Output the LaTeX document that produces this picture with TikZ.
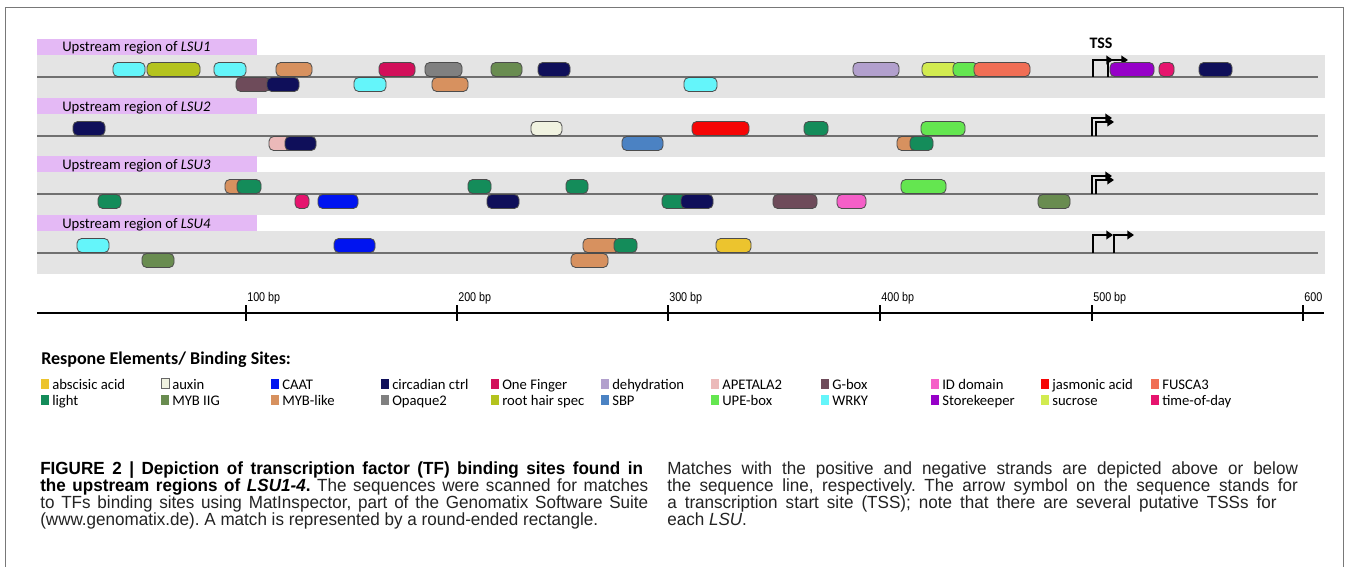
\documentclass[tikz,border=0pt]{standalone}
\usepackage{fontspec}
\setmainfont{Carlito}
\newfontfamily\capfont{Liberation Sans}[FakeStretch=0.97]
\newfontfamily\axfont{Liberation Sans}[FakeStretch=0.85]
\usetikzlibrary{arrows.meta}
\frenchspacing
\definecolor{bandgray}{RGB}{228,228,228}
\definecolor{lblpink}{RGB}{228,185,245}
\definecolor{linegray}{RGB}{112,112,112}
\definecolor{framegray}{RGB}{120,120,120}
\definecolor{captext}{RGB}{35,35,35}
\definecolor{abscisic}{RGB}{236,196,46}
\definecolor{auxin}{RGB}{240,242,224}
\definecolor{CAAT}{RGB}{0,20,240}
\definecolor{circadian}{RGB}{15,15,90}
\definecolor{OneFinger}{RGB}{210,15,90}
\definecolor{dehydration}{RGB}{178,160,205}
\definecolor{APETALA}{RGB}{235,185,185}
\definecolor{Gbox}{RGB}{110,75,90}
\definecolor{IDdomain}{RGB}{245,95,200}
\definecolor{jasmonic}{RGB}{245,5,5}
\definecolor{FUSCA}{RGB}{240,110,85}
\definecolor{light}{RGB}{20,140,90}
\definecolor{MYBIIG}{RGB}{105,140,80}
\definecolor{MYBlike}{RGB}{215,145,95}
\definecolor{Opaque}{RGB}{128,128,128}
\definecolor{roothair}{RGB}{180,195,30}
\definecolor{SBP}{RGB}{75,130,195}
\definecolor{UPE}{RGB}{100,230,80}
\definecolor{WRKY}{RGB}{100,245,250}
\definecolor{Storekeeper}{RGB}{150,0,200}
\definecolor{sucrose}{RGB}{210,235,80}
\definecolor{timeofday}{RGB}{230,20,110}
\begin{document}
\begin{tikzpicture}[x=0.75pt,y=-0.75pt,
  site/.style={draw=black!70, line width=0.6pt, rounded corners=3.5pt,
    minimum height=10.5pt, inner sep=0pt, outer sep=0pt},
  seqline/.style={draw=linegray, line width=1.4pt},
  lbltxt/.style={anchor=base west, inner sep=0pt, font=\fontsize{11}{13}\selectfont},
  tssarrow/.style={line width=1.1pt, -{Triangle[length=5pt,width=6.5pt]}},
  swatch/.style={anchor=south west, minimum width=6pt, minimum height=7.5pt, inner sep=0pt},
  legtxt/.style={anchor=base west, inner sep=0pt, font=\fontsize{11}{13}\selectfont},
  axlbl/.style={anchor=base west, inner sep=0pt, font=\axfont\fontsize{9.5}{11}\selectfont},
  captxt/.style={anchor=base west, inner sep=0pt, text=captext, font=\capfont\fontsize{13.2}{15}\selectfont\frenchspacing}]
\useasboundingbox (0,0) rectangle (1349,567);
\fill[white] (0,0) rectangle (1349,567);
\draw[framegray, line width=1.1pt] (5.5,567) |- (1343.5,7.5) -- (1343.5,567);

% ---------- tracks ----------
\foreach \L/\n in {77/1,136/2,194/3,253/4}{
  \fill[bandgray] (37,\L-22) rectangle (1325,\L+21);
  \fill[lblpink] (37,\L-38) rectangle (257,\L-22);
  \node[lbltxt] (lab\n) at (62,\L-25) {Upstream region of \textit{LSU\n}};
  \coordinate (ls\n) at (37,\L);
  \coordinate (le\n) at (1318,\L);
  \draw[seqline] (ls\n) -- (le\n);
}

% LSU1 sites: x1/x2/colour/side (1 above, -1 below)
\foreach \a/\b/\c/\s in {113/145/WRKY/1, 147/200/roothair/1, 214/246/WRKY/1,
  276/312/MYBlike/1, 379/415/OneFinger/1, 425/462/Opaque/1, 491/522/MYBIIG/1,
  538/570/circadian/1, 853/899/dehydration/1, 922/958/sucrose/1, 953/978/UPE/1,
  974/1030/FUSCA/1, 1159/1174/timeofday/1, 1199/1232/circadian/1,
  236/270/Gbox/-1, 267/299/circadian/-1, 354/386/WRKY/-1, 432/468/MYBlike/-1,
  684/717/WRKY/-1}{
  \node[site, fill=\c, minimum width={(\b-\a)*0.75pt}] (t1-\a) at ({(\a+\b)/2},{77-7.5*\s}) {};
}
% TSS LSU1
\coordinate (p1a) at (1093,77); \coordinate (q1a) at (1113,60);
\coordinate (p1b) at (1108,77); \coordinate (q1b) at (1128,60);
\draw[tssarrow] (p1a) |- (q1a);
\draw[tssarrow] (p1b) |- (q1b);
\node[site, fill=Storekeeper, minimum width={44*0.75pt}] (t1-1110) at (1132,69.5) {};
\node[font=\bfseries\fontsize{12}{14}\selectfont, inner sep=0pt] (tsslbl) at (1101,43) {TSS};

% LSU2 sites
\foreach \a/\b/\c/\s in {73/105/circadian/1, 531/562/auxin/1, 692/749/jasmonic/1,
  804/828/light/1, 921/965/UPE/1,
  269/300/APETALA/-1, 285/316/circadian/-1, 622/663/SBP/-1,
  897/925/MYBlike/-1, 910/933/light/-1}{
  \node[site, fill=\c, minimum width={(\b-\a)*0.75pt}] (t2-\a) at ({(\a+\b)/2},{136-7.5*\s}) {};
}
\coordinate (p2a) at (1092,136); \coordinate (q2a) at (1112,118);
\coordinate (p2b) at (1096,136); \coordinate (q2b) at (1114,122);
\draw[tssarrow] (p2a) |- (q2a);
\draw[tssarrow] (p2b) |- (q2b);

% LSU3 sites
\foreach \a/\b/\c/\s in {225/255/MYBlike/1, 237/261/light/1, 468/491/light/1,
  566/588/light/1, 901/946/UPE/1,
  98/121/light/-1, 295/309/timeofday/-1, 318/358/CAAT/-1, 487/519/circadian/-1,
  662/690/light/-1, 681/713/circadian/-1, 773/817/Gbox/-1, 837/866/IDdomain/-1,
  1038/1070/MYBIIG/-1}{
  \node[site, fill=\c, minimum width={(\b-\a)*0.75pt}] (t3-\a) at ({(\a+\b)/2},{194-7.5*\s}) {};
}
\coordinate (p3a) at (1092,194); \coordinate (q3a) at (1112,176);
\coordinate (p3b) at (1096,194); \coordinate (q3b) at (1114,180);
\draw[tssarrow] (p3a) |- (q3a);
\draw[tssarrow] (p3b) |- (q3b);

% LSU4 sites
\foreach \a/\b/\c/\s in {77/109/WRKY/1, 334/375/CAAT/1, 583/620/MYBlike/1,
  614/637/light/1, 716/751/abscisic/1,
  142/174/MYBIIG/-1, 571/608/MYBlike/-1}{
  \node[site, fill=\c, minimum width={(\b-\a)*0.75pt}] (t4-\a) at ({(\a+\b)/2},{253-7.5*\s}) {};
}
\coordinate (p4a) at (1093,253); \coordinate (q4a) at (1113,235);
\coordinate (p4b) at (1114,253); \coordinate (q4b) at (1134,235);
\draw[tssarrow] (p4a) |- (q4a);
\draw[tssarrow] (p4b) |- (q4b);

% ---------- scale ----------
\coordinate (ax0) at (37,313); \coordinate (ax1) at (1324,313);
\draw[line width=1.6pt] (ax0) -- (ax1);
\foreach \x/\t in {246/100 bp, 457/200 bp, 668/300 bp, 880/400 bp, 1092/500 bp, 1303/600}{
  \draw[line width=1.1pt] (\x,305) -- (\x,321);
  \node[axlbl] (ax-\x) at (\x+1,301.5) {\t};
}

% ---------- legend ----------
\node[anchor=base west, inner sep=0pt, font=\bfseries\fontsize{13.5}{16}\selectfont] (legtitle) at (41,364) {Respone Elements/ Binding Sites:};
\foreach \x/\c/\t in {41/abscisic/abscisic acid, 271/CAAT/CAAT, 381/circadian/circadian ctrl,
  491/OneFinger/One Finger, 601/dehydration/dehydration, 711/APETALA/APETALA2,
  821/Gbox/G-box, 931/IDdomain/ID domain, 1041/jasmonic/jasmonic acid, 1151/FUSCA/FUSCA3}{
  \node[swatch, fill=\c] (sa-\x) at (\x,389) {};
  \node[legtxt] (ta-\x) at (\x+11,389) {\t};
}
\node[swatch, fill=auxin, draw=black!60, line width=0.5pt] (sa-161) at (161,389) {};
\node[legtxt] (ta-161) at (172,389) {auxin};
\foreach \x/\c/\t in {41/light/light, 161/MYBIIG/MYB IIG, 271/MYBlike/MYB-like,
  381/Opaque/Opaque2, 491/roothair/root hair spec, 601/SBP/SBP, 711/UPE/UPE-box,
  821/WRKY/WRKY, 931/Storekeeper/Storekeeper, 1041/sucrose/sucrose, 1151/timeofday/time-of-day}{
  \node[swatch, fill=\c] (sb-\x) at (\x,405) {};
  \node[legtxt] (tb-\x) at (\x+11,405) {\t};
}

% ---------- caption ----------
\node[captxt] (c1) at (40,474) {\makebox[452pt][s]{\color{black}\bfseries FIGURE 2 | Depiction of transcription factor (TF) binding sites found in}};
\node[captxt] (c2) at (40,491) {\makebox[456pt][s]{\textbf{\color{black}the upstream regions of \textit{LSU1-4}.} The sequences were scanned for matches}};
\node[captxt] (c3) at (40,508) {\makebox[456pt][s]{to TFs binding sites using MatInspector, part of the Genomatix Software Suite}};
\node[captxt] (c4) at (40,525) {(www.genomatix.de). A match is represented by a round-ended rectangle.};
\node[captxt] (c5) at (667,474) {\makebox[473pt][s]{Matches with the positive and negative strands are depicted above or below}};
\node[captxt] (c6) at (667,491) {\makebox[473pt][s]{the sequence line, respectively. The arrow symbol on the sequence stands for}};
\node[captxt] (c7) at (667,508) {\makebox[457pt][s]{a transcription start site (TSS); note that there are several putative TSSs for}};
\node[captxt] (c8) at (667,525) {each \textit{LSU}.};
\end{tikzpicture}
\end{document}
